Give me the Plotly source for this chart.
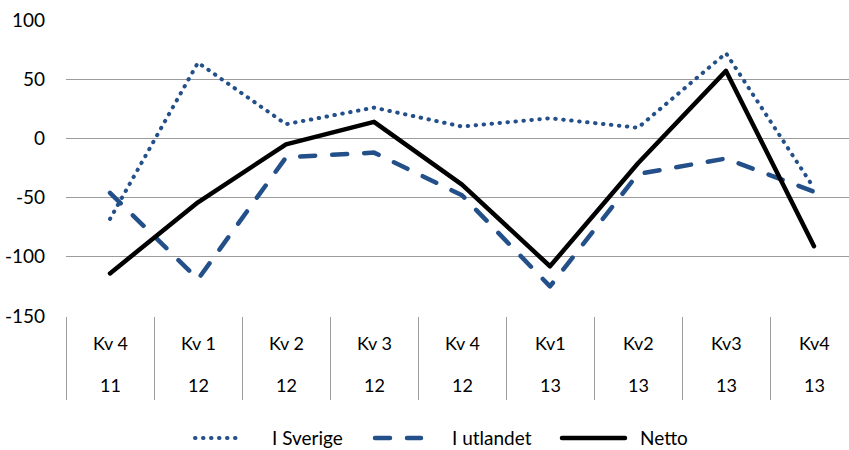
import plotly.graph_objects as go

# Quarter labels (two rows under the axis) and series values
quarters = ["Kv 4", "Kv 1", "Kv 2", "Kv 3", "Kv 4", "Kv1", "Kv2", "Kv3", "Kv4"]
years = ["11", "12", "12", "12", "12", "13", "13", "13", "13"]
series_names = ["I Sverige", "I utlandet", "Netto"]
i_sverige = [-68, 64, 12, 26, 10, 17, 9, 72, -42]
i_utlandet = [-46, -119, -16, -12, -48, -125, -30, -17, -45]
netto = [-114, -54, -5, 14, -39, -108, -21, 57, -91]

y_ticks = [-150, -100, -50, 0, 50, 100]
y_ticktext = [str(v) for v in y_ticks]

FONT = "Lato, 'Open Sans', sans-serif"
BLUE = "#245089"
GRID = "#9c9c9c"
W, H = 849, 450
L, T, B = 66, 20, 134          # plot area: x from 66 px, y from 20 px to 316 px
PLOT_W, PLOT_H = W - L, H - T - B
CAT_PX = 88.0                   # width of one quarter column

styles = [
    dict(color=BLUE, width=4, dash="0.5px,7.5px"),
    dict(color=BLUE, width=4.5, dash="15px,17px"),
    dict(color="black", width=4.5, dash="solid"),
]

x = list(range(len(quarters)))

fig = go.Figure()
for name, vals, st in zip(series_names, [i_sverige, i_utlandet, netto], styles):
    fig.add_trace(go.Scatter(x=x, y=vals, name=name, mode="lines",
                             line=st, showlegend=False))


def px_x(p):
    return (p - L) / PLOT_W


def px_y(p):
    return (T + PLOT_H - p) / PLOT_H


# Quarter / year labels in the table below the axis
annotations = []
for i, (q, yr) in enumerate(zip(quarters, years)):
    annotations.append(dict(x=i, y=px_y(343), xref="x", yref="paper", text=q,
                            showarrow=False, yanchor="middle"))
    annotations.append(dict(x=i, y=px_y(385), xref="x", yref="paper", text=yr,
                            showarrow=False, yanchor="middle"))

# Legend row drawn along the bottom edge
shapes = []
legend_items = [(195, 243, 270), (375, 421, 450), (562, 625, 638)]
for (x0, x1, xt), name, st in zip(legend_items, series_names, styles):
    shapes.append(dict(type="line", xref="paper", yref="paper",
                       x0=px_x(x0), x1=px_x(x1), y0=px_y(438), y1=px_y(438),
                       line=dict(color=st["color"], width=st["width"],
                                 dash=st["dash"])))
    annotations.append(dict(x=px_x(xt), y=px_y(437), xref="paper",
                            yref="paper", text=name, showarrow=False,
                            xanchor="left", yanchor="middle",
                            font=dict(size=19)))

fig.update_layout(
    width=W, height=H,
    margin=dict(l=L, r=0, t=T, b=B),
    paper_bgcolor="white", plot_bgcolor="white",
    font=dict(family=FONT, size=18, color="black"),
    showlegend=False,
    annotations=annotations,
    shapes=shapes,
    xaxis=dict(
        range=[-0.5, -0.5 + PLOT_W / CAT_PX],
        tickvals=[i - 0.5 for i in range(len(quarters) + 1)],
        showticklabels=False, ticks="outside", ticklen=83,
        tickcolor=GRID, tickwidth=1,
        showgrid=False, zeroline=False, showline=False,
    ),
    yaxis=dict(
        range=[-150, 100], tickvals=y_ticks, ticktext=y_ticktext,
        showgrid=True, gridcolor=GRID, gridwidth=1,
        zeroline=False, showline=False, ticks="",
        ticklabelstandoff=20,
        tickfont=dict(family=FONT, size=19, color="black"),
    ),
)

# Round line caps so the dotted series renders as round dots
round_caps = (
    "document.querySelectorAll('.js-line, .shapelayer path').forEach("
    "function(p){p.style.strokeLinecap='round';p.style.strokeLinejoin='round';});"
)
fig.write_html("out.html", post_script=round_caps)
